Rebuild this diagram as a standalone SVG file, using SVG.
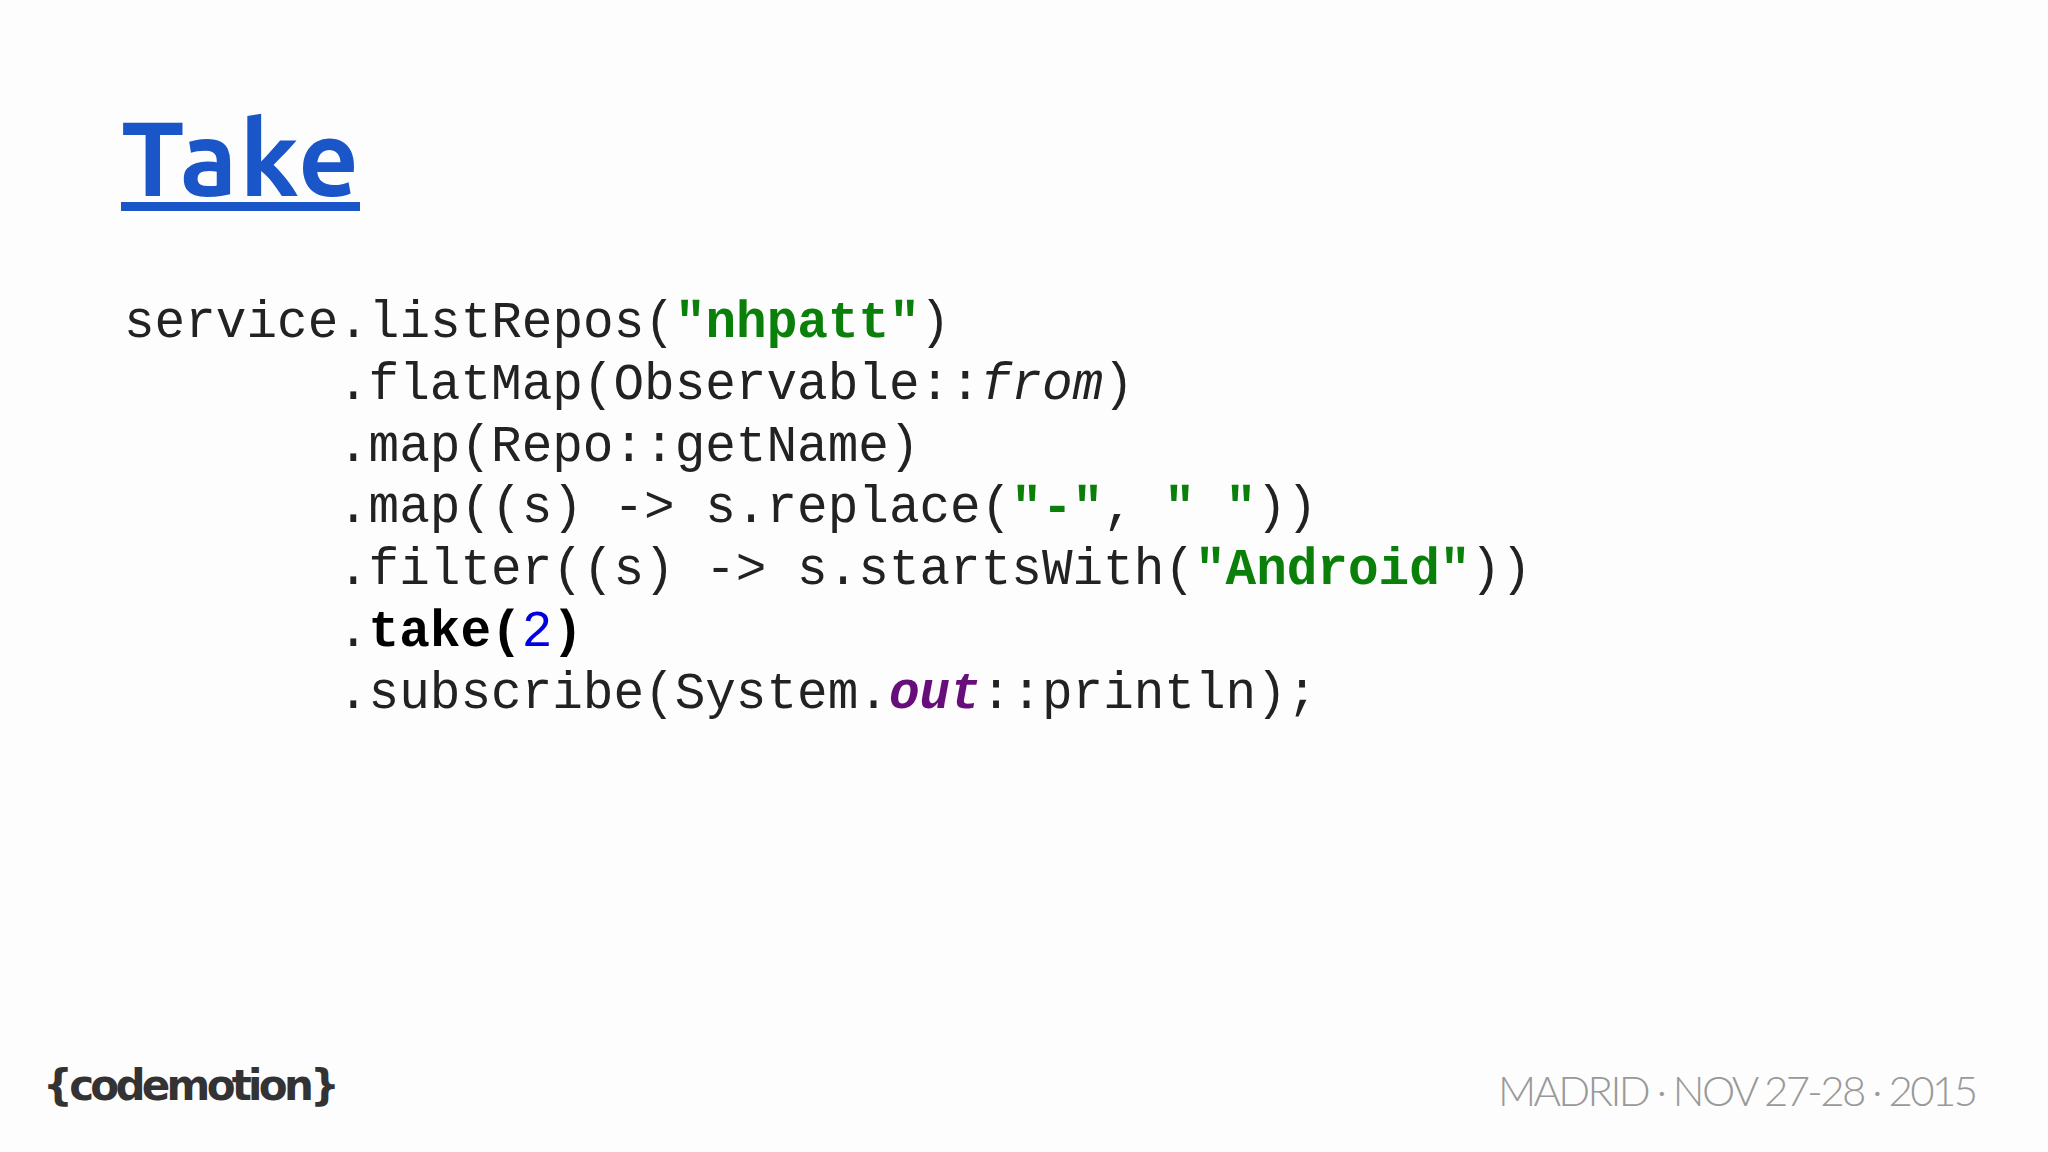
<svg xmlns="http://www.w3.org/2000/svg" width="2048" height="1152" viewBox="0 0 2048 1152">
<style>
.c{font-family:"Liberation Mono","Courier New",monospace;font-size:51px;fill:#222}
.s{fill:#0a800a;font-weight:bold}
.b{font-weight:bold;fill:#000}
</style>
<rect width="2048" height="1152" fill="#fdfdfd"/>
<g id="title">
<text x="121" y="196" font-family="Ubuntu,'Open Sans',sans-serif" font-weight="bold" font-size="106" fill="#1a56c8" textLength="238">Take</text>
<rect x="121" y="202" width="239" height="9" fill="#1a56c8"/>
</g>
<g id="code">
<text class="c" x="124" y="337">service.listRepos(<tspan class="s">"nhpatt"</tspan>)</text>
<text class="c" x="338" y="399">.flatMap(Observable::<tspan font-style="italic">from</tspan>)</text>
<text class="c" x="338" y="461">.map(Repo::getName)</text>
<text class="c" x="338" y="522">.map((s) -&gt; s.replace(<tspan class="s">"-"</tspan>, <tspan class="s">" "</tspan>))</text>
<text class="c" x="338" y="584">.filter((s) -&gt; s.startsWith(<tspan class="s">"Android"</tspan>))</text>
<text class="c" x="338" y="646">.<tspan class="b">take(</tspan><tspan fill="#0000e0">2</tspan><tspan class="b">)</tspan></text>
<text class="c" x="338" y="708">.subscribe(System.<tspan fill="#660e7a" font-weight="bold" font-style="italic">out</tspan>::println);</text>
</g>
<g id="footer">
<text x="43" y="1100" font-family="'DejaVu Sans',sans-serif" font-weight="bold" font-size="42" fill="#333" textLength="297">{codemotion}</text>
<text x="1498" y="1106" font-family="Lato,'Open Sans',sans-serif" font-weight="300" font-size="42" fill="#999" textLength="480">MADRID · NOV 27-28 · 2015</text>
</g>
</svg>
